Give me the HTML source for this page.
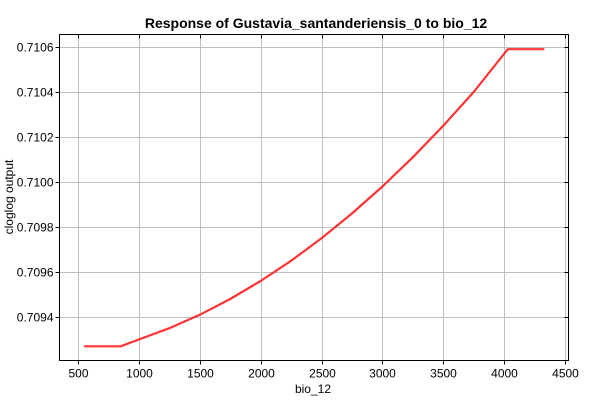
<!DOCTYPE html>
<html><head><meta charset="utf-8"><style>
body{margin:0;background:#fff;}
svg{display:block;font-family:"Liberation Sans",sans-serif;}
</style></head><body>
<svg id="chart" width="600" height="400" viewBox="0 0 600 400" xmlns="http://www.w3.org/2000/svg">
<rect x="0" y="0" width="600" height="400" fill="#fff"/>
<text x="316" y="28" text-anchor="middle" font-size="14" font-weight="bold">Response of Gustavia_santanderiensis_0 to bio_12</text>
<g id="grid"></g>
<g id="axes"></g>
<g id="series"></g>
<text x="313" y="393" text-anchor="middle" font-size="12">bio_12</text>
<text transform="translate(13,197) rotate(-90)" text-anchor="middle" font-size="12">cloglog output</text>
</svg>
<script>
const xTicks=[500,1000,1500,2000,2500,3000,3500,4000,4500];
const yTicks=[0.7094,0.7096,0.7098,0.7100,0.7102,0.7104,0.7106];
const xValues=[550,850,1000,1250,1500,1750,2000,2250,2500,2750,3000,3250,3500,3750,4030,4330];
const yValues=[0.70927,0.70927,0.70930,0.70935,0.70941,0.70948,0.70956,0.70965,0.70975,0.70986,0.70998,0.71011,0.71025,0.71040,0.71059,0.71059];
const L=59.5,R=568.5,T=34.5,B=360.5;
function xs(v){return 78+(v-500)*0.12175;}
function ys(v){return 317-(v-0.7094)/0.0002*45;}
const ns="http://www.w3.org/2000/svg";
function mk(tag,attrs,parent){const e=document.createElementNS(ns,tag);for(const k in attrs)e.setAttribute(k,attrs[k]);parent.appendChild(e);return e;}
const grid=document.getElementById('grid'),axes=document.getElementById('axes'),series=document.getElementById('series');
xTicks.forEach(v=>{const x=Math.round(xs(v))+0.5;
 const g=mk('line',{x1:x,x2:x,y1:T,y2:B,stroke:'#c0c0c0','stroke-width':1},grid);
 
 const t=mk('line',{x1:x,x2:x,y1:B,y2:B+4,stroke:'#000'},axes);
 
 const t2=mk('line',{x1:x,x2:x,y1:T,y2:T+4,stroke:'#000'},axes);
 
 const l=mk('text',{x:x,y:B+17,'text-anchor':'middle','font-size':12},axes);l.textContent=v;
 });
yTicks.forEach(v=>{const y=Math.round(ys(v))+0.5;
 const g=mk('line',{x1:L,x2:R,y1:y,y2:y,stroke:'#c0c0c0','stroke-width':1},grid);
 
 const t=mk('line',{x1:L-4,x2:L,y1:y,y2:y,stroke:'#000'},axes);
 
 const t2=mk('line',{x1:R-4,x2:R,y1:y,y2:y,stroke:'#000'},axes);
 
 const l=mk('text',{x:L-6,y:y+4,'text-anchor':'end','font-size':12},axes);l.textContent=v.toFixed(4);
 });
const fr=mk('rect',{x:L,y:T,width:R-L,height:B-T,fill:'none',stroke:'#000'},axes);

const d=xValues.map((v,i)=>(i?'L':'M')+xs(v).toFixed(1)+','+ys(yValues[i]).toFixed(1)).join(' ');
const p=mk('path',{d:d,fill:'none',stroke:'#ff3333','stroke-width':2.2,'stroke-linejoin':'round'},series);

</script>
</body></html>
